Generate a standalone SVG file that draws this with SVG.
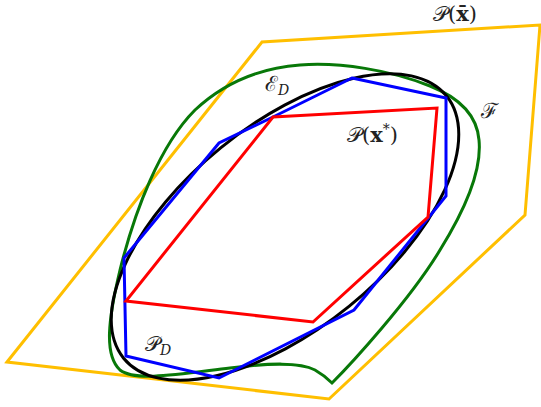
<svg xmlns="http://www.w3.org/2000/svg" width="541" height="407" viewBox="0 0 541 407">
<style>
.s{fill:none;stroke-width:3;stroke-linejoin:miter}
.t{font-family:"DejaVu Serif","Liberation Serif",serif;font-size:21px;fill:#222}
.b{font-weight:bold}
.sub{font-size:14px;font-style:italic}
.sup{font-size:14px}
</style>
<rect width="541" height="407" fill="#fff"/>
<g id="P_xbar"><polygon class="s" stroke="#FFBF00" points="7,362 262,42 540,25 525,215 329,399"/></g>
<g id="F"><path class="s" stroke="#087808" d="M332,383 C350,365 410,300 440,250 C465,210 482,170 479,140 C477,115 460,98 430,86 C390,70 340,62 300,65 C260,68 225,82 195,110 C160,145 135,210 120,270 C108,320 104,355 120,370 C135,382 180,374 230,368 C270,363 300,362 315,370 C322,374 328,379 332,383 Z"/></g>
<g id="E_D"><ellipse class="s" stroke="#000" cx="285" cy="227" rx="208" ry="102" transform="rotate(-39.1 285 227)"/></g>
<g id="P_D"><polygon class="s" stroke="#0000FF" points="352,78 446,98 446,196 354,310 219,378 126,356 124,258 219,143 273,117"/></g>
<g id="P_xstar"><polygon class="s" stroke="#FF0000" points="273,117 437,108 428,217 313,322 126,301"/></g>
<g id="labels">
<text class="t" x="433" y="21">𝒫(<tspan class="b">x̄</tspan>)</text>
<text class="t" x="265" y="91">ℰ<tspan class="sub" dy="4">D</tspan></text>
<text class="t" x="481" y="118">ℱ</text>
<text class="t" x="347" y="142">𝒫(<tspan class="b">x</tspan><tspan class="sup" dy="-8">*</tspan><tspan dy="8">)</tspan></text>
<text class="t" x="145" y="351">𝒫<tspan class="sub" dy="4">D</tspan></text>
</g>
</svg>
